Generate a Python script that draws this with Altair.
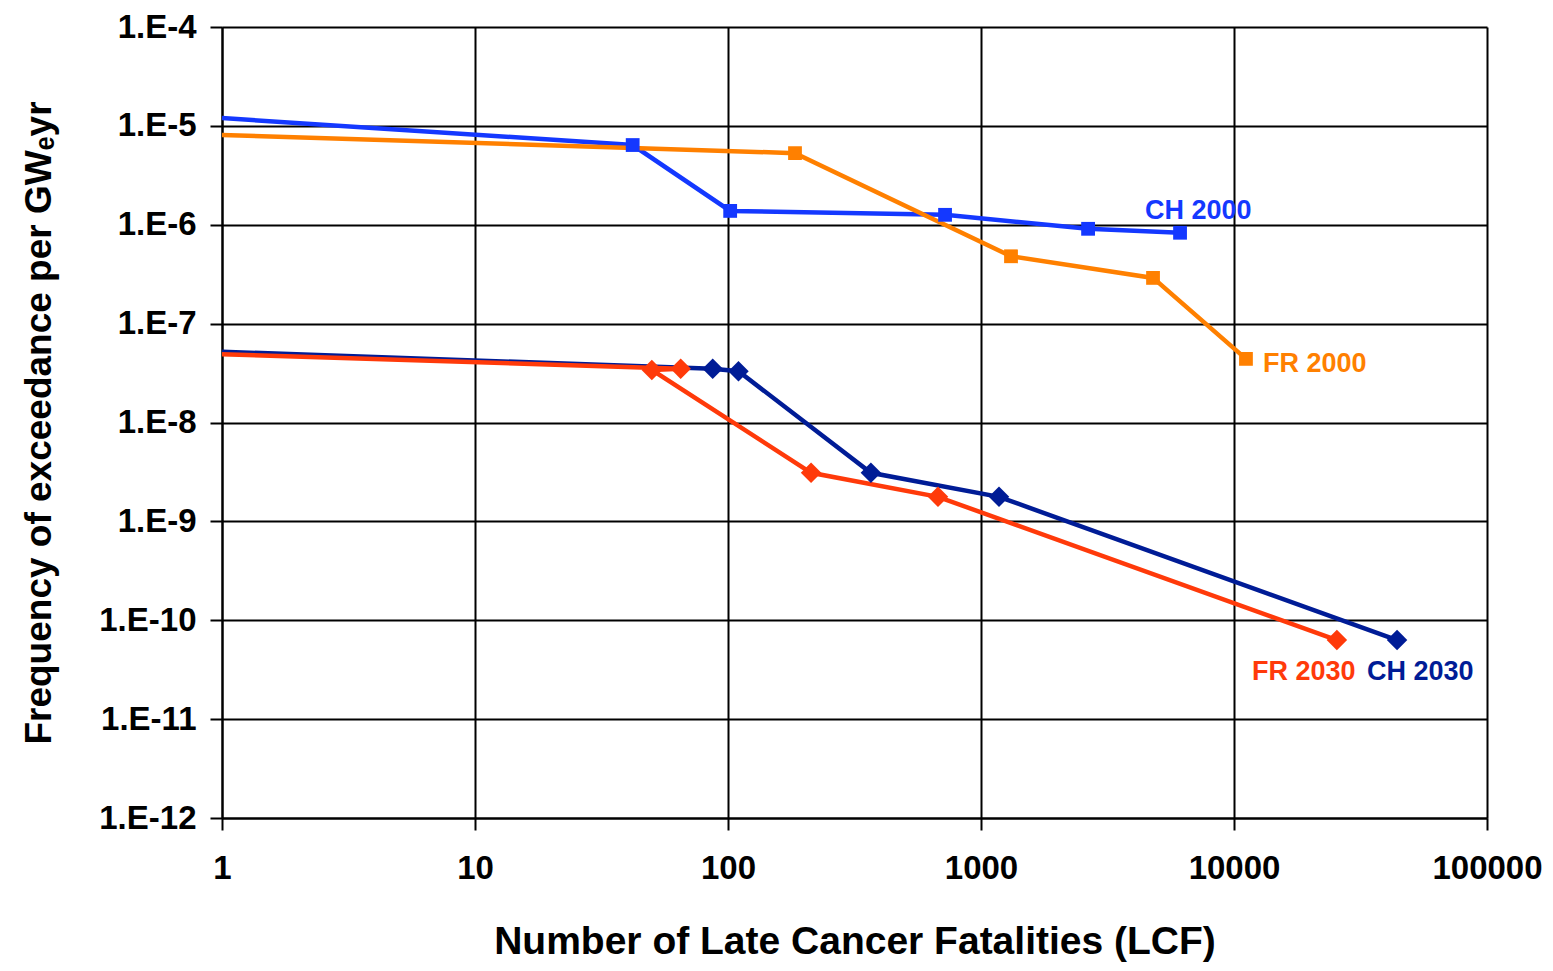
import altair as alt
import pandas as pd

# ---- data ----
ch2000_x = [1, 42, 102, 721, 2650, 6120]
ch2000_y = [1.2e-5, 6.4e-6, 1.38e-6, 1.26e-6, 9.1e-7, 8.3e-7]

fr2000_x = [1, 184, 1314, 4786, 11150]
fr2000_y = [8.1e-6, 5.3e-6, 4.8e-7, 2.9e-7, 4.4e-8]

ch2030_x = [1, 87, 110, 367, 1178, 44100]
ch2030_y = [5.2e-8, 3.5e-8, 3.3e-8, 3.1e-9, 1.77e-9, 6.3e-11]

fr2030_x = [1, 65, 50, 213, 676, 25500]
fr2030_y = [4.9e-8, 3.5e-8, 3.4e-8, 3.1e-9, 1.77e-9, 6.3e-11]

series_names = ["CH 2000", "FR 2000", "CH 2030", "FR 2030"]
series_colors = ["#1438FF", "#FF8000", "#001C96", "#FF3A0A"]
series_marker = ["square", "square", "diamond", "diamond"]

label_text = ["CH 2000", "FR 2000", "FR 2030", "CH 2030"]
label_x = [4450, 13030, 11780, 33550]
label_y = [1.15e-6, 3.25e-8, 2.5e-11, 2.5e-11]

x_ticks = [1, 10, 100, 1000, 10000, 100000]
y_ticks = [1e-12, 1e-11, 1e-10, 1e-9, 1e-8, 1e-7, 1e-6, 1e-5, 1e-4]

rows = []
for name, mk, xs, ys in zip(series_names, series_marker,
                            [ch2000_x, fr2000_x, ch2030_x, fr2030_x],
                            [ch2000_y, fr2000_y, ch2030_y, fr2030_y]):
    for i, (xv, yv) in enumerate(zip(xs, ys)):
        # the first point of each curve sits on the left axis and has no marker
        rows.append({"series": name, "marker": mk if i > 0 else "none",
                     "x": xv, "y": yv, "order": i})
df = pd.DataFrame(rows)
labels = pd.DataFrame({"series": label_text, "x": label_x, "y": label_y})

FONT = "Liberation Sans, Arial, sans-serif"

xscale = alt.Scale(type="log", domain=[1, 100000], nice=False)
yscale = alt.Scale(type="log", domain=[1e-12, 1e-4], nice=False)
cscale = alt.Scale(domain=series_names, range=series_colors)

xaxis = alt.Axis(
    values=x_ticks, format="d", title="Number of Late Cancer Fatalities (LCF)",
    grid=True, gridColor="black", gridWidth=2, gridOpacity=1,
    domainColor="black", domainWidth=2, tickColor="black", tickWidth=2, tickSize=12,
    labelFont=FONT, labelFontSize=33, labelFontWeight="bold", labelColor="black",
    labelPadding=22, labelFlush=False, labelOverlap=False,
    titleFont=FONT, titleFontSize=39, titleFontWeight="bold", titleColor="black",
    titleY=135, titleBaseline="alphabetic",
)
yaxis = alt.Axis(
    values=y_ticks, labelExpr="'1.E' + round(log(datum.value)/LN10)",
    title="Frequency of exceedance per GWₑyr",
    grid=True, gridColor="black", gridWidth=2, gridOpacity=1,
    domainColor="black", domainWidth=2, tickColor="black", tickWidth=2, tickSize=12,
    labelFont=FONT, labelFontSize=33, labelFontWeight="bold", labelColor="black",
    labelPadding=14, labelFlush=False, labelOverlap=False, labelBaseline="middle",
    titleFont=FONT, titleFontSize=37, titleFontWeight="bold", titleColor="black",
    titleAngle=270, titleX=-172, titleBaseline="alphabetic",
)

base = alt.Chart(df)
lines = base.mark_line(strokeWidth=4.5, clip=True).encode(
    x=alt.X("x:Q", scale=xscale, axis=xaxis),
    y=alt.Y("y:Q", scale=yscale, axis=yaxis),
    color=alt.Color("series:N", scale=cscale, legend=None),
    detail="series:N",
    order="order:Q",
)
squares = base.transform_filter(alt.datum.marker == "square").mark_point(
    shape="square", filled=True, opacity=1, size=190
).encode(
    x=alt.X("x:Q", scale=xscale),
    y=alt.Y("y:Q", scale=yscale),
    color=alt.Color("series:N", scale=cscale, legend=None),
)
diamonds = base.transform_filter(alt.datum.marker == "diamond").mark_point(
    shape="diamond", filled=True, opacity=1, size=420
).encode(
    x=alt.X("x:Q", scale=xscale),
    y=alt.Y("y:Q", scale=yscale),
    color=alt.Color("series:N", scale=cscale, legend=None),
)
texts = alt.Chart(labels).mark_text(
    align="left", baseline="alphabetic", font=FONT, fontSize=27, fontWeight="bold"
).encode(
    x=alt.X("x:Q", scale=xscale),
    y=alt.Y("y:Q", scale=yscale),
    text="series:N",
    color=alt.Color("series:N", scale=cscale, legend=None),
)

chart = alt.layer(lines, squares, diamonds, texts).properties(
    width=1265, height=791,
    autosize=alt.AutoSizeParams(type="none"),
    padding={"left": 222, "top": 27, "right": 66, "bottom": 153},
    background="white",
).configure_view(stroke=None)

chart.save("out.html", embed_options={"renderer": "svg", "actions": False})
